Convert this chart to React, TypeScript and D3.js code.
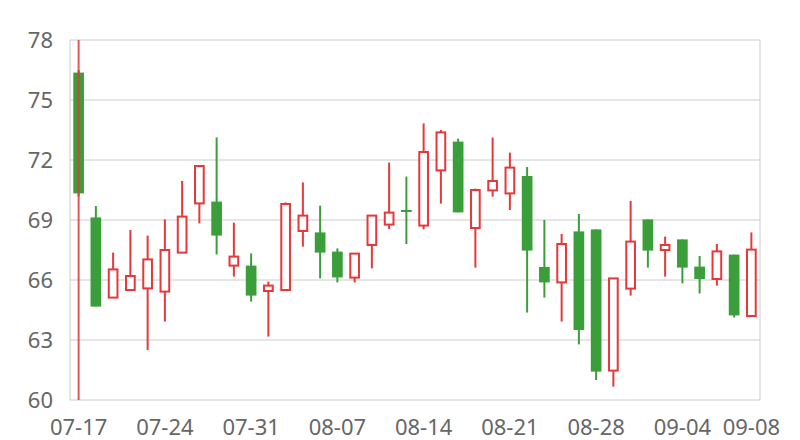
import React from "react";
import * as d3 from "d3";

const dates = [
  "07-17","07-18","07-19","07-20","07-21",
  "07-24","07-25","07-26","07-27","07-28",
  "07-31","08-01","08-02","08-03","08-04",
  "08-07","08-08","08-09","08-10","08-11",
  "08-14","08-15","08-16","08-17","08-18",
  "08-21","08-22","08-23","08-24","08-25",
  "08-28","08-29","08-30","08-31","09-01",
  "09-04","09-05","09-06","09-07","09-08",
];
const openV = [76.37,69.13,65.12,65.5,65.58,65.42,67.37,69.83,69.92,66.72,66.72,65.45,65.5,68.45,68.38,67.42,66.12,67.75,68.77,69.5,68.72,71.48,72.92,68.6,70.48,70.33,71.2,66.65,65.88,68.43,68.53,61.47,65.57,69.03,67.5,68.03,66.67,66.05,67.27,64.2];
const closeV = [70.33,64.67,66.53,66.2,67.03,67.5,69.17,71.7,68.22,67.17,65.22,65.72,69.8,69.22,67.37,66.13,67.32,69.22,69.37,69.5,72.4,73.38,69.38,70.5,70.95,71.62,67.47,65.88,67.8,63.5,61.42,66.08,67.92,67.47,67.75,66.62,66.05,67.43,64.23,67.52];
const highV = [76.5,69.7,67.37,68.5,68.22,69.03,70.95,71.7,73.13,68.87,67.33,65.92,69.88,70.88,69.72,67.58,67.32,69.22,71.87,71.17,73.83,73.5,73.07,70.57,73.12,72.37,71.65,69.0,68.3,69.3,68.53,66.08,69.95,69.03,68.17,68.03,67.2,67.8,67.27,68.38];
const lowV = [70.17,64.67,65.12,65.5,62.5,63.92,67.37,68.83,67.28,66.17,64.92,63.17,65.5,67.67,66.08,65.88,65.88,66.58,68.55,67.8,68.53,69.82,69.38,66.62,70.17,69.5,64.37,65.12,63.92,62.78,61.0,60.67,65.22,66.62,66.17,65.83,65.33,65.72,64.13,64.2];
const yTicks = [60, 63, 66, 69, 72, 75, 78];
const xTickLabels = ["07-17","07-24","07-31","08-07","08-14","08-21","08-28","09-04","09-08"];
const markerDate = "07-17";

const W = 800, H = 440;
const L = 70, R = 760, T = 40, B = 400;
const RED = "#e5383b";
const GREEN = "#3a9f3a";
const FONT = "'Noto Sans', sans-serif";

export default function App() {
  const x = d3.scaleBand<string>().domain(dates).range([L, R]).padding(0);
  const y = d3.scaleLinear().domain([60, 78]).range([B, T]);
  const bw = x.bandwidth() * 0.62;
  const cx = (d: string) => (x(d) as number) + x.bandwidth() / 2;

  return (
    <svg width={W} height={H} style={{ position: "absolute", left: 0, top: 0 }}>
      <rect x={0} y={0} width={W} height={H} fill="#fff" />
      {yTicks.map((t) => (
        <g key={t}>
          <line x1={L} x2={R} y1={y(t)} y2={y(t)} stroke="#cccccc" strokeWidth={1} />
          <text x={L - 17} y={y(t)} dy="0.36em" textAnchor="end" fontSize={22} fill="#666" fontFamily={FONT}>{t}</text>
        </g>
      ))}
      <line x1={L} x2={L} y1={T} y2={B} stroke="#cccccc" />
      <line x1={R} x2={R} y1={T} y2={B} stroke="#cccccc" />
      {dates.map((d, i) => {
        const o = openV[i], c = closeV[i], h = highV[i], l = lowV[i];
        const up = c > o;
        const col = up ? RED : GREEN;
        const top = y(Math.max(o, c));
        const bot = y(Math.min(o, c));
        const xc = cx(d);
        if (up) {
          return (
            <g key={d}>
              <line x1={xc} x2={xc} y1={y(h)} y2={y(l)} stroke={col} strokeWidth={2} />
              <rect x={xc - bw / 2 + 1} y={top} width={bw - 2} height={Math.max(bot - top, 1)} fill="#fff" stroke={col} strokeWidth={2} />
            </g>
          );
        }
        return (
          <g key={d}>
            <line x1={xc} x2={xc} y1={y(h)} y2={y(l)} stroke={col} strokeWidth={2} />
            <rect x={xc - bw / 2} y={top} width={bw} height={Math.max(bot - top, 2)} fill={col} />
          </g>
        );
      })}
      <line x1={cx(markerDate)} x2={cx(markerDate)} y1={T} y2={B} stroke={RED} strokeWidth={2} opacity={0.85} />
      {xTickLabels.map((d) => (
        <text key={d} x={cx(d)} y={435} textAnchor="middle" fontSize={22} fill="#666" fontFamily={FONT}>{d}</text>
      ))}
    </svg>
  );
}
